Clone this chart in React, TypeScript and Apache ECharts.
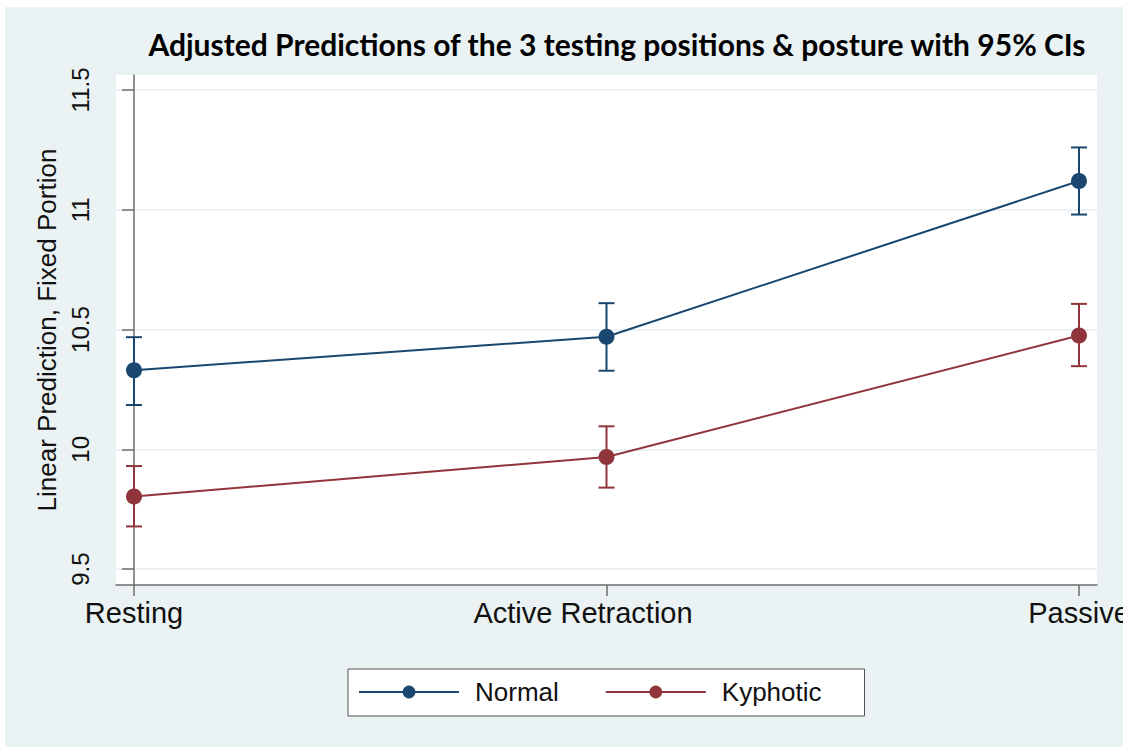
import React, { useEffect, useRef } from "react";
import * as echarts from "echarts";

const categories = ["Resting", "Active Retraction", "Passive"];
const yTicks = [9.5, 10, 10.5, 11, 11.5];
const yTickLabels = ["9.5", "10", "10.5", "11", "11.5"];

const normalMean = [10.33, 10.47, 11.12];
const normalLow = [10.185, 10.328, 10.98];
const normalHigh = [10.468, 10.61, 11.26];

const kyphoticMean = [9.803, 9.968, 10.475];
const kyphoticLow = [9.678, 9.84, 10.347];
const kyphoticHigh = [9.93, 10.096, 10.607];

const NAVY = "#1a476f";
const MAROON = "#90353b";
const BG = "#eaf2f3";

function errorSeries(name: string, low: number[], high: number[], color: string) {
  return {
    type: "custom",
    name: name + " CI",
    silent: true,
    z: 3,
    data: low.map((l, i) => [i, l, high[i]]),
    renderItem: (params: any, api: any) => {
      const x = api.value(0);
      const lo = api.coord([x, api.value(1)]);
      const hi = api.coord([x, api.value(2)]);
      const hw = 8;
      const style = { stroke: color, lineWidth: 2, fill: "none" };
      return {
        type: "group",
        children: [
          { type: "line", shape: { x1: lo[0], y1: lo[1], x2: hi[0], y2: hi[1] }, style },
          { type: "line", shape: { x1: lo[0] - hw, y1: lo[1], x2: lo[0] + hw, y2: lo[1] }, style },
          { type: "line", shape: { x1: hi[0] - hw, y1: hi[1], x2: hi[0] + hw, y2: hi[1] }, style },
        ],
      };
    },
  };
}

export default function App() {
  const ref = useRef<HTMLDivElement>(null);
  useEffect(() => {
    document.body.style.margin = "0";
    const chart = echarts.init(ref.current!, undefined, { renderer: "svg" });
    const axisFont = "'Liberation Sans', Arial, sans-serif";
    chart.setOption({
      animation: false,
      backgroundColor: "#ffffff",
      graphic: [
        {
          type: "rect",
          z: -10,
          silent: true,
          shape: { x: 5, y: 7, width: 1118, height: 740 },
          style: { fill: BG },
        },
      ],
      title: {
        text: "Adjusted Predictions of the 3 testing positions & posture with 95% CIs",
        left: 612,
        textAlign: "center",
        top: 24,
        textStyle: {
          fontFamily: "Lato, 'Open Sans', sans-serif",
          fontWeight: "bold",
          fontSize: 30,
          color: "#000",
        },
      },
      grid: {
        left: 116,
        top: 75,
        width: 981,
        height: 510,
        show: true,
        backgroundColor: "#ffffff",
        borderWidth: 0,
        outerBoundsMode: "none",
        containLabel: false,
      },
      legend: {
        left: 348,
        top: 669,
        orient: "horizontal",
        backgroundColor: "#ffffff",
        borderColor: "#555",
        borderWidth: 1,
        borderRadius: 0,
        padding: [10, 43, 11, 10],
        itemWidth: 100,
        itemHeight: 16,
        itemGap: 46,
        data: ["Normal", "Kyphotic"],
        textStyle: {
          fontFamily: axisFont,
          fontSize: 26,
          color: "#111",
          padding: [0, 0, 0, 11],
        },
      },
      xAxis: {
        type: "value",
        min: -0.0381,
        max: 2.0381,
        splitLine: { show: false },
        axisLine: { show: true, lineStyle: { color: "#6e6e6e", width: 1.5 } },
        axisTick: {
          show: true,
          length: 11,
          customValues: [0, 1, 2],
          lineStyle: { color: "#6e6e6e", width: 1.5 },
        },
        axisLabel: {
          customValues: [0, 1, 2],
          formatter: (v: number) => {
            const i = Math.round(v);
            const t = categories[i] ?? "";
            return i === 1 ? "{mid|" + t + "}" : t;
          },
          rich: {
            mid: {
              fontFamily: axisFont,
              fontSize: 29,
              color: "#111",
              padding: [0, 47, 0, 0],
            },
          },
          fontFamily: axisFont,
          fontSize: 29,
          color: "#111",
          margin: 13,
        },
      },
      yAxis: {
        type: "value",
        min: 9.4335,
        max: 11.5625,
        name: "Linear Prediction, Fixed Portion",
        nameLocation: "middle",
        nameGap: 48,
        nameRotate: 90,
        nameTextStyle: { fontFamily: axisFont, fontSize: 26, color: "#111" },
        axisLine: { show: true, lineStyle: { color: "#6e6e6e", width: 1.5 } },
        axisTick: {
          show: true,
          length: 12,
          customValues: yTicks,
          lineStyle: { color: "#6e6e6e", width: 1.5 },
        },
        splitLine: { show: true, lineStyle: { color: BG, width: 2 } },
        axisLabel: {
          customValues: yTicks,
          rotate: 90,
          formatter: (v: number) => yTickLabels[yTicks.indexOf(v)] ?? String(v),
          fontFamily: axisFont,
          fontSize: 24,
          color: "#111",
          margin: 24,
        },
      },
      series: [
        {
          type: "line",
          name: "Normal",
          data: normalMean.map((v, i) => [i, v]),
          symbol: "circle",
          symbolSize: 16,
          z: 4,
          itemStyle: { color: NAVY },
          lineStyle: { color: NAVY, width: 2 },
        },
        {
          type: "line",
          name: "Kyphotic",
          data: kyphoticMean.map((v, i) => [i, v]),
          symbol: "circle",
          symbolSize: 16,
          z: 4,
          itemStyle: { color: MAROON },
          lineStyle: { color: MAROON, width: 2 },
        },
        errorSeries("Normal", normalLow, normalHigh, NAVY),
        errorSeries("Kyphotic", kyphoticLow, kyphoticHigh, MAROON),
      ],
    });
    return () => chart.dispose();
  }, []);
  return <div ref={ref} style={{ width: 1123, height: 747 }} />;
}
